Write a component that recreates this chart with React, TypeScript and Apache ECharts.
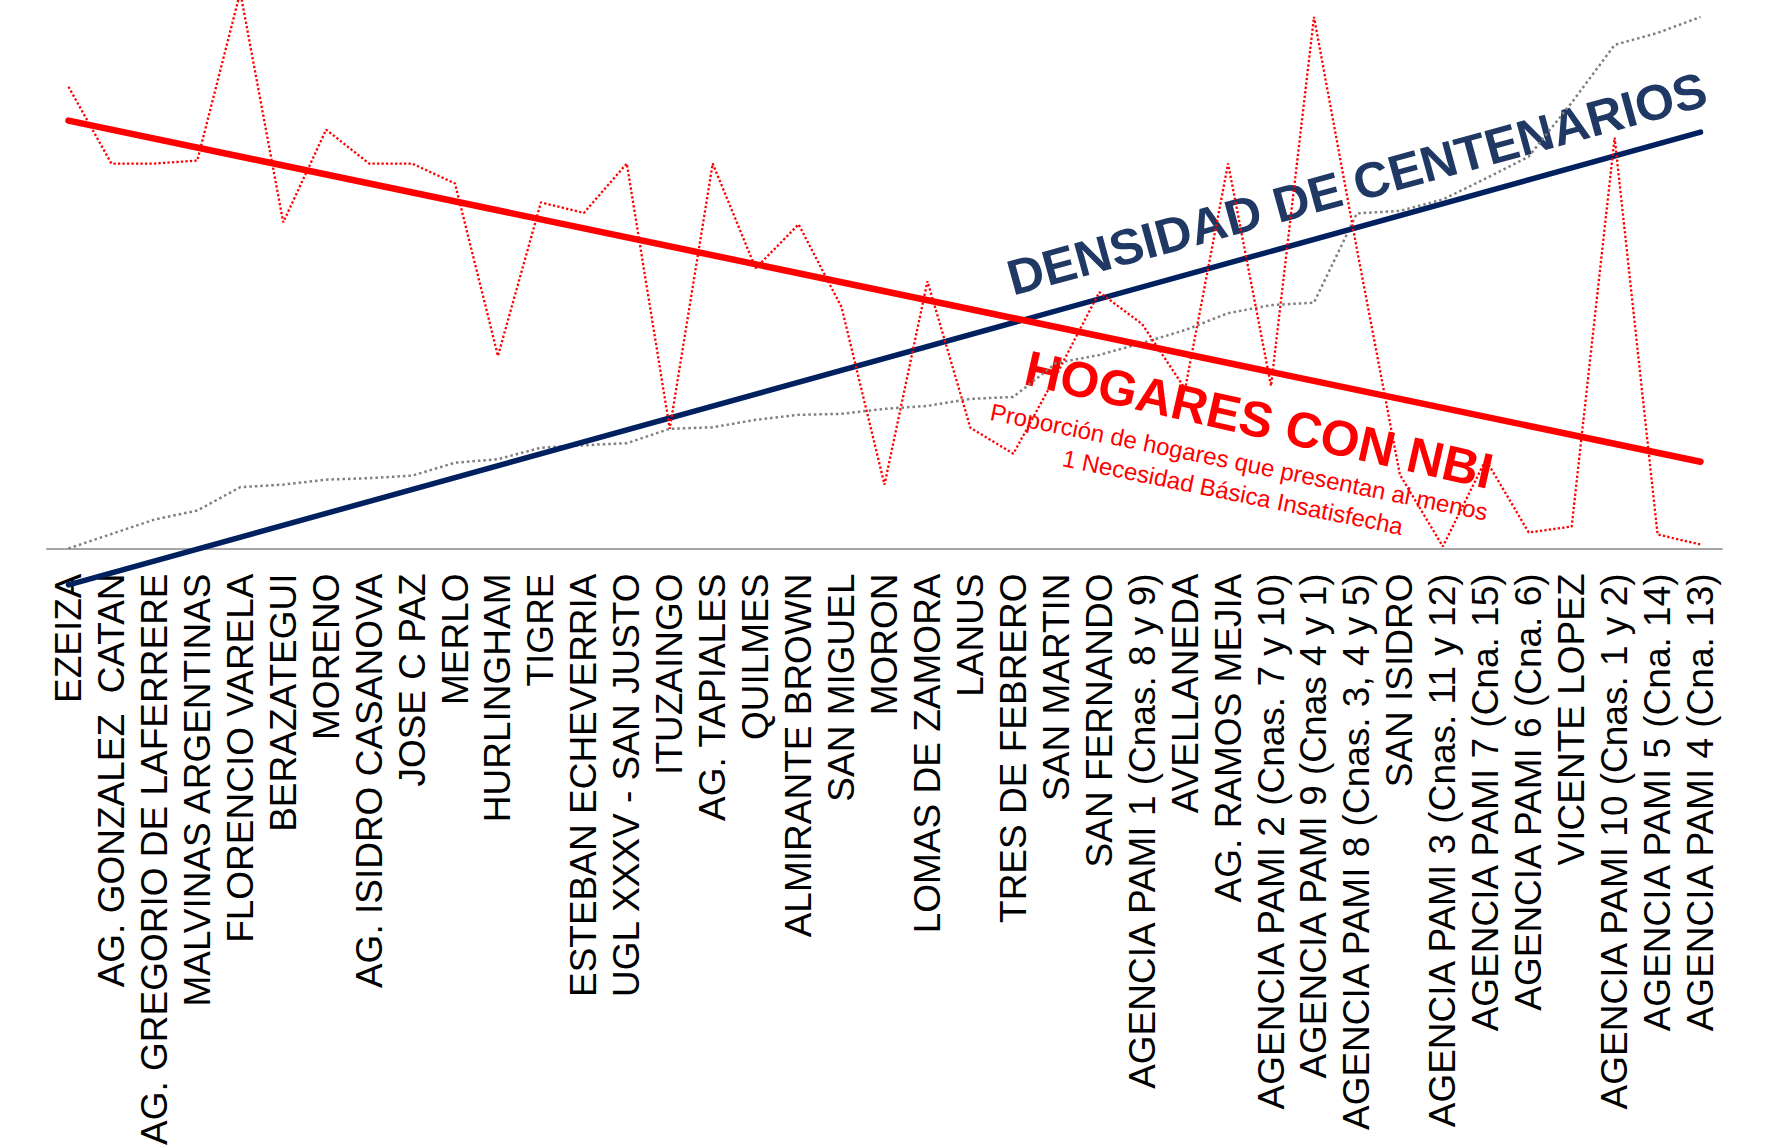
import React, { useEffect, useRef } from "react";
import * as echarts from "echarts";

const categories: string[] = [
  "EZEIZA",
  "AG. GONZALEZ  CATAN",
  "AG. GREGORIO DE LAFERRERE",
  "MALVINAS ARGENTINAS",
  "FLORENCIO VARELA",
  "BERAZATEGUI",
  "MORENO",
  "AG. ISIDRO CASANOVA",
  "JOSE C PAZ",
  "MERLO",
  "HURLINGHAM",
  "TIGRE",
  "ESTEBAN ECHEVERRIA",
  "UGL XXXV - SAN JUSTO",
  "ITUZAINGO",
  "AG. TAPIALES",
  "QUILMES",
  "ALMIRANTE BROWN",
  "SAN MIGUEL",
  "MORON",
  "LOMAS DE ZAMORA",
  "LANUS",
  "TRES DE FEBRERO",
  "SAN MARTIN",
  "SAN FERNANDO",
  "AGENCIA PAMI 1 (Cnas. 8 y 9)",
  "AVELLANEDA",
  "AG. RAMOS MEJIA",
  "AGENCIA PAMI 2 (Cnas. 7 y 10)",
  "AGENCIA PAMI 9 (Cnas 4 y 1)",
  "AGENCIA PAMI 8 (Cnas. 3, 4 y 5)",
  "SAN ISIDRO",
  "AGENCIA PAMI 3 (Cnas. 11 y 12)",
  "AGENCIA PAMI 7 (Cna. 15)",
  "AGENCIA PAMI 6 (Cna. 6)",
  "VICENTE LOPEZ",
  "AGENCIA PAMI 10 (Cnas. 1 y 2)",
  "AGENCIA PAMI 5 (Cna. 14)",
  "AGENCIA PAMI 4 (Cna. 13)",
];

// Proporción de hogares con NBI (%)
const hogaresNbi: number[] = [
  9.26, 7.72, 7.72, 7.78, 11.16, 6.54, 8.4, 7.72, 7.72, 7.32,
  3.86, 6.94, 6.73, 7.72, 2.4, 7.72, 5.62, 6.5, 4.84, 1.28,
  5.36, 2.42, 1.9, 3.48, 5.14, 4.5, 3.2, 7.72, 3.26, 10.66,
  6.0, 1.48, 0.04, 1.78, 0.32, 0.44, 8.24, 0.28, 0.08,
];

// Densidad de centenarios
const densidadCentenarios: number[] = [
  0, 0.29, 0.58, 0.76, 1.23, 1.28, 1.38, 1.41, 1.46, 1.72,
  1.79, 2.02, 2.07, 2.11, 2.4, 2.43, 2.58, 2.68, 2.7, 2.8,
  2.86, 3.0, 3.04, 3.72, 3.88, 4.12, 4.38, 4.72, 4.88, 4.93,
  6.72, 6.77, 7.0, 7.42, 7.86, 8.94, 10.1, 10.34, 10.66,
];

// Linear trend lines (start, end)
const nbiTrend: number[] = [8.58, 1.74];
const densidadTrend: number[] = [-0.73, 8.35];

const FONT = "'Liberation Sans', Arial, Helvetica, sans-serif";

export default function App() {
  const ref = useRef<HTMLDivElement>(null);

  useEffect(() => {
    if (!ref.current) return;
    const chart = echarts.init(ref.current, undefined, { renderer: "svg" });
    const last = categories.length - 1;
    const option: any = {
      animation: false,
      backgroundColor: "#ffffff",
      grid: { left: 47, right: 47, top: 0, bottom: 598, containLabel: false },
      xAxis: {
        type: "category",
        data: categories,
        boundaryGap: true,
        axisLine: { show: true, lineStyle: { color: "#A6A6A6", width: 2 } },
        axisTick: { show: false },
        splitLine: { show: false },
        axisLabel: {
          rotate: 90,
          interval: 0,
          fontSize: 37,
          color: "#000000",
          fontFamily: FONT,
          margin: 25,
        },
      },
      yAxis: { type: "value", min: 0, max: 11, show: false },
      series: [
        {
          name: "Densidad de centenarios",
          type: "line",
          data: densidadCentenarios,
          symbol: "none",
          z: 2,
          lineStyle: { color: "#7F7F7F", width: 2.5, type: [2.5, 3] },
        },
        {
          name: "Tendencia densidad",
          type: "line",
          data: [
            [categories[0], densidadTrend[0]],
            [categories[last], densidadTrend[1]],
          ],
          symbol: "none",
          clip: false,
          z: 3,
          lineStyle: { color: "#002060", width: 5.5, cap: "round" },
        },
        {
          name: "Hogares con NBI",
          type: "line",
          data: hogaresNbi,
          symbol: "none",
          z: 4,
          lineStyle: { color: "#FF0000", width: 2.3, type: [2.3, 2.2] },
        },
        {
          name: "Tendencia NBI",
          type: "line",
          data: [
            [categories[0], nbiTrend[0]],
            [categories[last], nbiTrend[1]],
          ],
          symbol: "none",
          clip: false,
          z: 5,
          lineStyle: { color: "#FF0000", width: 6.5, cap: "round" },
        },
      ],
      graphic: [
        {
          type: "text",
          x: 1357,
          y: 184,
          rotation: (15.3 * Math.PI) / 180,
          z: 1,
          style: {
            text: "DENSIDAD DE CENTENARIOS",
            fontSize: 50,
            fontWeight: "bold",
            fontFamily: FONT,
            fill: "#1F3864",
            align: "center",
            verticalAlign: "middle",
          },
        },
        {
          type: "text",
          x: 1259,
          y: 420,
          rotation: (-12.7 * Math.PI) / 180,
          z: 1,
          style: {
            text: "HOGARES CON NBI",
            fontSize: 50,
            fontWeight: "bold",
            fontFamily: FONT,
            fill: "#FF0000",
            align: "center",
            verticalAlign: "middle",
          },
        },
        {
          type: "text",
          x: 1236,
          y: 477,
          rotation: (-11.5 * Math.PI) / 180,
          z: 1,
          style: {
            text: "Proporción de hogares que presentan al menos\n1 Necesidad Básica Insatisfecha",
            fontSize: 24,
            lineHeight: 31,
            fontFamily: FONT,
            fill: "#FF0000",
            align: "center",
            verticalAlign: "middle",
          },
        },
      ],
    };
    chart.setOption(option);
    return () => {
      chart.dispose();
    };
  }, []);

  return (
    <div
      ref={ref}
      style={{
        position: "absolute",
        left: 0,
        top: 0,
        width: 1769,
        height: 1148,
        background: "#ffffff",
      }}
    />
  );
}
